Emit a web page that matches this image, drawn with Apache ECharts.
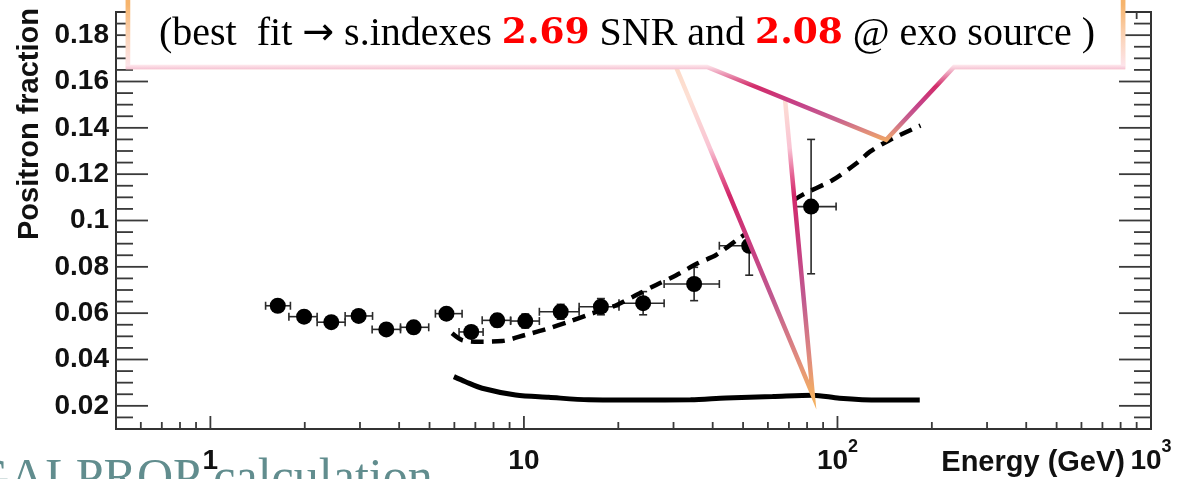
<!DOCTYPE html>
<html>
<head>
<meta charset="utf-8">
<script src="https://cdn.jsdelivr.net/npm/echarts@6/dist/echarts.min.js"></script>
<style>
  html, body { margin: 0; padding: 0; background: #ffffff; }
  #chart { width: 1186px; height: 479px; }
</style>
</head>
<body>
<div id="chart"></div>
<script>
// Measured positron fraction (points with bin edges and errors)
const energy   = [1.64, 1.99, 2.43, 2.97, 3.64, 4.45, 5.66, 6.79, 8.22, 10.1, 13.1, 17.6, 24.0, 34.9, 52.3, 82.4];
const fraction = [0.0632, 0.0585, 0.0561, 0.0588, 0.0530, 0.0539, 0.0598, 0.0519, 0.0569, 0.0566, 0.0606, 0.0628, 0.0643, 0.0726, 0.0891, 0.1060];
const binLow   = [1.50, 1.78, 2.19, 2.69, 3.28, 4.04, 5.22, 6.21, 7.36, 9.07, 11.2, 15.0, 20.1, 28.0, 42.0, 68.6];
const binHigh  = [1.80, 2.19, 2.69, 3.29, 4.04, 4.97, 6.35, 7.41, 9.07, 11.2, 15.0, 20.1, 28.0, 42.0, 66.2, 99.0];
const fracErr  = [0.0016, 0.0017, 0.0018, 0.0019, 0.0020, 0.0021, 0.0022, 0.0025, 0.0027, 0.0030, 0.0032, 0.0035, 0.0050, 0.0072, 0.0127, 0.0290];

// Model with the extra source (dashed curve)
const modelEnergy   = [5.90, 6.35, 7.18, 8.52, 10.1, 11.7, 13.9, 16.5, 19.2, 22.8, 26.4, 30.5, 35.8, 41.0, 48.6, 58.5, 75.6, 96.6, 115, 127, 147, 184];
const modelFraction = [0.0513, 0.0484, 0.0477, 0.0480, 0.0506, 0.0530, 0.0563, 0.0599, 0.0628, 0.0678, 0.0722, 0.0763, 0.0815, 0.0851, 0.0923, 0.0994, 0.1103, 0.1175, 0.1247, 0.1297, 0.1348, 0.1410];

// Secondary-only calculation (solid curve)
const bgEnergy   = [5.98, 6.51, 7.36, 9.41, 12.0, 16.1, 23.3, 34.0, 44.1, 62.1, 83.4, 101.5, 136, 183];
const bgFraction = [0.0326, 0.0304, 0.0276, 0.0247, 0.0237, 0.0226, 0.0225, 0.0226, 0.0234, 0.0240, 0.0246, 0.0233, 0.0225, 0.0225];

// Axis ranges and tick values
const xRange = [0.5, 1000];
const yRange = [0.01, 0.19];
const xMajorTicks = [1, 10, 100];
const xMinorTicks = [0.6, 0.7, 0.8, 0.9, 2, 3, 4, 5, 6, 7, 8, 9, 20, 30, 40, 50, 60, 70, 80, 90, 200, 300, 400, 500, 600, 700, 800, 900];
const yMajorTicks = [0.02, 0.04, 0.06, 0.08, 0.10, 0.12, 0.14, 0.16, 0.18];
const yMinorTicks = [0.015, 0.025, 0.03, 0.035, 0.045, 0.05, 0.055, 0.065, 0.07, 0.075, 0.085, 0.09, 0.095,
                     0.105, 0.11, 0.115, 0.125, 0.13, 0.135, 0.145, 0.15, 0.155, 0.165, 0.17, 0.175, 0.185];

// Annotation anchors (data coordinates the callout wedges point to)
const wedgeSolid  = [83.4, 0.0247];
const wedgeDashed = [143, 0.1348];

const xTitle = 'Energy (GeV)';
const yTitle = 'Positron fraction';
const noteParts = ['(best  fit ', '\u2192', ' s.indexes ', '2.69', ' SNR and ', '2.08', ' @ exo source )'];
const footText = 'GALPROP calculation';

const SANS = 'Liberation Sans, Arial, Helvetica, sans-serif';
const SERIF = 'Liberation Serif, Times New Roman, serif';
const TICK_COLOR = '#3a3a3a';

const chart = echarts.init(document.getElementById('chart'), null, { renderer: 'canvas' });

function isClose(a, b) { return Math.abs(a - b) < 1e-9; }

function xTickRenderer(len) {
  return function (params, api) {
    const v = api.value(0);
    const b = api.coord([v, yRange[0]]);
    const t = api.coord([v, yRange[1]]);
    const st = { stroke: TICK_COLOR, lineWidth: 1.8 };
    return { type: 'group', children: [
      { type: 'line', shape: { x1: b[0], y1: b[1], x2: b[0], y2: b[1] - len }, style: st },
      { type: 'line', shape: { x1: t[0], y1: t[1], x2: t[0], y2: t[1] + len }, style: st }
    ]};
  };
}
function yTickRenderer(len) {
  return function (params, api) {
    const v = api.value(1);
    const l = api.coord([xRange[0], v]);
    const r = api.coord([xRange[1], v]);
    const st = { stroke: TICK_COLOR, lineWidth: 1.8 };
    return { type: 'group', children: [
      { type: 'line', shape: { x1: l[0], y1: l[1], x2: l[0] + len, y2: l[1] }, style: st },
      { type: 'line', shape: { x1: r[0], y1: r[1], x2: r[0] - len, y2: r[1] }, style: st }
    ]};
  };
}

function errorBarRenderer(params, api) {
  const x = api.value(0), y = api.value(1);
  const pl = api.coord([api.value(2), y]);
  const ph = api.coord([api.value(3), y]);
  const pb = api.coord([x, api.value(4)]);
  const pt = api.coord([x, api.value(5)]);
  const c = 4;
  const st = { stroke: '#2a2a2a', lineWidth: 1.6 };
  return { type: 'group', children: [
    { type: 'line', shape: { x1: pl[0], y1: pl[1], x2: ph[0], y2: ph[1] }, style: st },
    { type: 'line', shape: { x1: pl[0], y1: pl[1] - c, x2: pl[0], y2: pl[1] + c }, style: st },
    { type: 'line', shape: { x1: ph[0], y1: ph[1] - c, x2: ph[0], y2: ph[1] + c }, style: st },
    { type: 'line', shape: { x1: pb[0], y1: pb[1], x2: pt[0], y2: pt[1] }, style: st },
    { type: 'line', shape: { x1: pb[0] - c, y1: pb[1], x2: pb[0] + c, y2: pb[1] }, style: st },
    { type: 'line', shape: { x1: pt[0] - c, y1: pt[1], x2: pt[0] + c, y2: pt[1] }, style: st }
  ]};
}

// Base digits sit at the bottom of a tall line, the exponent at its top
const labelRich = {
  b: { fontSize: 28, fontWeight: 'bold', fontFamily: SANS, color: '#111111', lineHeight: 37, verticalAlign: 'bottom' },
  s: { fontSize: 18, fontWeight: 'bold', fontFamily: SANS, color: '#111111', lineHeight: 18, verticalAlign: 'top' }
};

const option = {
  animation: false,
  backgroundColor: '#ffffff',
  grid: { left: 116, top: 12, width: 1035, height: 417, show: true, borderColor: '#333333', borderWidth: 2, backgroundColor: 'transparent' },
  xAxis: {
    type: 'log', logBase: 10, min: xRange[0], max: xRange[1], z: 10,
    axisLine: { show: false }, axisTick: { show: false }, splitLine: { show: false }, minorTick: { show: false },
    axisLabel: {
      margin: 9, showMinLabel: true, showMaxLabel: true,
      formatter: function (v) {
        const lg = Math.log10(v), p = Math.round(lg);
        if (Math.abs(lg - p) > 1e-6 || p < 0) return '';
        if (p === 0) return '{b|1}';
        if (p === 1) return '{b|10}';
        return '{b|10}{s|' + p + '}';
      },
      rich: labelRich
    }
  },
  yAxis: {
    type: 'value', min: yRange[0], max: yRange[1], splitNumber: 9, z: 10,
    axisLine: { show: false }, axisTick: { show: false }, splitLine: { show: false },
    axisLabel: {
      margin: 7, fontSize: 28, fontWeight: 'bold', fontFamily: SANS, color: '#111111',
      formatter: function (v) {
        return yMajorTicks.some(t => isClose(t, v)) ? String(+v.toFixed(2)) : '';
      }
    }
  },
  series: [
    { type: 'custom', name: 'xMajor', silent: true, z: 6, renderItem: xTickRenderer(13),
      encode: { x: 0, y: 1 }, data: xMajorTicks.map(v => [v, yRange[0]]) },
    { type: 'custom', name: 'xMinor', silent: true, z: 6, renderItem: xTickRenderer(7),
      encode: { x: 0, y: 1 }, data: xMinorTicks.map(v => [v, yRange[0]]) },
    { type: 'custom', name: 'yMajor', silent: true, z: 6, renderItem: yTickRenderer(32),
      encode: { x: 0, y: 1 }, data: yMajorTicks.map(v => [xRange[0], v]) },
    { type: 'custom', name: 'yMinor', silent: true, z: 6, renderItem: yTickRenderer(17),
      encode: { x: 0, y: 1 }, data: yMinorTicks.map(v => [xRange[0], v]) },
    { type: 'custom', name: 'errors', silent: true, z: 3, renderItem: errorBarRenderer,
      encode: { x: 0, y: 1 },
      data: energy.map((e, i) => [e, fraction[i], binLow[i], binHigh[i], fraction[i] - fracErr[i], fraction[i] + fracErr[i]]) },
    { type: 'scatter', name: 'data', silent: true, z: 4, symbol: 'circle', symbolSize: 16,
      itemStyle: { color: '#000000', opacity: 1 }, data: energy.map((e, i) => [e, fraction[i]]) },
    { type: 'line', name: 'model', silent: true, z: 5, showSymbol: false, smooth: 0.3,
      lineStyle: { color: '#000000', width: 4.5, type: [13, 8] },
      data: modelEnergy.map((e, i) => [e, modelFraction[i]]) },
    { type: 'line', name: 'secondary', silent: true, z: 5, showSymbol: false, smooth: 0.3,
      lineStyle: { color: '#000000', width: 5 },
      data: bgEnergy.map((e, i) => [e, bgFraction[i]]) }
  ]
};
chart.setOption(option);

const G = echarts.graphic;
const tipA = chart.convertToPixel({ xAxisIndex: 0, yAxisIndex: 0 }, wedgeSolid);
const tipB = chart.convertToPixel({ xAxisIndex: 0, yAxisIndex: 0 }, wedgeDashed);

const strokeA = new G.LinearGradient(0, 0, 0, 1, [
  { offset: 0.00, color: '#f5ae66' },
  { offset: 0.08, color: '#f6b46c' },
  { offset: 0.19, color: '#fcd8c2' },
  { offset: 0.30, color: '#fde0d4' },
  { offset: 0.42, color: '#f9c4d4' },
  { offset: 0.48, color: '#e66696' },
  { offset: 0.53, color: '#d2286a' },
  { offset: 0.66, color: '#c84082' },
  { offset: 0.77, color: '#c05a90' },
  { offset: 0.89, color: '#dc8482' },
  { offset: 1.00, color: '#f4b062' }
]);
const strokeB = new G.LinearGradient(0, 0, 0, 1, [
  { offset: 0.00, color: '#f5ae66' },
  { offset: 0.21, color: '#f6b46c' },
  { offset: 0.41, color: '#fbd5bc' },
  { offset: 0.56, color: '#fde4ea' },
  { offset: 0.68, color: '#d22c6a' },
  { offset: 0.79, color: '#c4448a' },
  { offset: 0.87, color: '#c8628e' },
  { offset: 0.94, color: '#e08c7c' },
  { offset: 1.00, color: '#f2aa5e' }
]);

const boxL = 128, boxR = 1123, boxT = -30, boxB = 67;

chart.setOption({
  graphic: [
    { type: 'text', z: 1, x: -27, y: 480, silent: true,
      style: { text: footText, fill: '#618d8e', fontSize: 50, fontFamily: SERIF, align: 'left', verticalAlign: 'middle' } },
    { type: 'text', z: 20, x: 1125, y: 463, silent: true,
      style: { text: xTitle, fill: '#111111', fontSize: 29, fontWeight: 'bold', fontFamily: SANS, align: 'right', verticalAlign: 'middle' } },
    { type: 'text', z: 20, x: 30, y: 124, rotation: Math.PI / 2, silent: true,
      style: { text: yTitle, fill: '#111111', fontSize: 29, fontWeight: 'bold', fontFamily: SANS, align: 'center', verticalAlign: 'middle' } },
    { type: 'polygon', z: 100, silent: true,
      shape: { points: [[boxL, boxT], [boxR, boxT], [boxR, boxB], [782, boxB], [tipA[0], tipA[1]], [676, boxB], [boxL, boxB]] },
      style: { fill: '#ffffff', stroke: strokeA, lineWidth: 4.5, lineJoin: 'miter', miterLimit: 30 } },
    { type: 'polygon', z: 101, silent: true,
      shape: { points: [[boxL, boxT], [boxR, boxT], [boxR, boxB], [954, boxB], [tipB[0], tipB[1]], [707, boxB], [boxL, boxB]] },
      style: { fill: '#ffffff', stroke: strokeB, lineWidth: 4.5, lineJoin: 'miter', miterLimit: 30 } },
    { type: 'text', z: 102, x: 627, y: 34, silent: true,
      style: {
        text: '{n|' + noteParts[0] + '}{a|' + noteParts[1] + '}{n|' + noteParts[2] + '}{r|' + noteParts[3] + '}{n|' +
              noteParts[4] + '}{r|' + noteParts[5] + '}{n|' + noteParts[6] + '}',
        align: 'center', verticalAlign: 'middle',
        rich: {
          n: { fontSize: 40, fontFamily: SERIF, fill: '#000000' },
          a: { fontSize: 38, fontFamily: 'DejaVu Sans, sans-serif', fill: '#000000' },
          r: { fontSize: 36, fontFamily: 'DejaVu Serif, serif', fontWeight: 'bold', fill: '#ff0000' }
        }
      } }
  ]
});
</script>
</body>
</html>
